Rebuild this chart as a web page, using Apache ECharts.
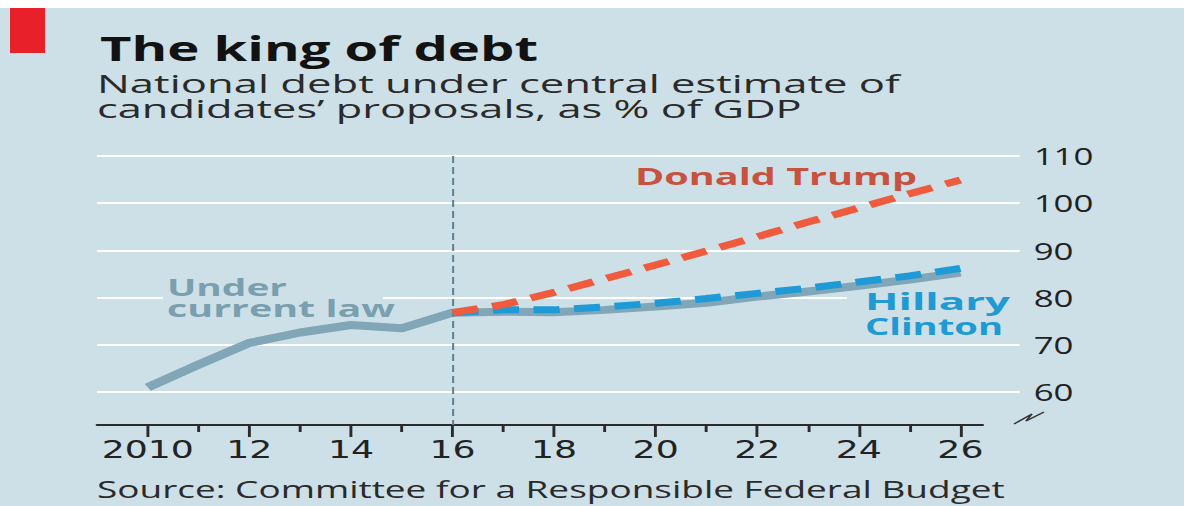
<!DOCTYPE html>
<html>
<head>
<meta charset="utf-8">
<script src="https://cdn.jsdelivr.net/npm/echarts@6/dist/echarts.min.js"></script>
<style>
  html, body { margin: 0; padding: 0; background: #ffffff; overflow: hidden; }
  #stage { width: 1184px; height: 506px; overflow: hidden; position: relative; }
  #chart { height: 506px; transform-origin: 0 0; }
</style>
</head>
<body>
<div id="stage"><div id="chart"></div></div>
<script>
// ---- data: national debt, % of GDP ----
const years = [2010, 2011, 2012, 2013, 2014, 2015, 2016, 2017, 2018, 2019, 2020, 2021, 2022, 2023, 2024, 2025, 2026];
const currentLaw = [61.0, 65.8, 70.4, 72.6, 74.2, 73.5, 76.8, 77.0, 76.9, 77.4, 78.1, 78.9, 80.2, 81.3, 82.5, 83.8, 85.3];
const projYears = [2016, 2017, 2018, 2019, 2020, 2021, 2022, 2023, 2024, 2025, 2026];
const clinton = [76.8, 77.4, 77.4, 78.0, 78.8, 79.8, 80.9, 82.0, 83.3, 84.6, 86.2];
const trump   = [76.8, 78.5, 81.1, 84.0, 86.9, 89.9, 92.9, 96.0, 99.0, 102.0, 104.9];

// ---- axis ticks and labels ----
const yTickValues = [60, 70, 80, 90, 100, 110];
const xMajorTicks = [2010, 2012, 2014, 2016, 2018, 2020, 2022, 2024, 2026];
const xMinorTicks = [2011, 2013, 2015, 2017, 2019, 2021, 2023, 2025];
const xTickLabels = ['2010', '12', '14', '16', '18', '20', '22', '24', '26'];
const projectionStart = 2016;

// ---- text ----
const titleText = 'The king of debt';
const subtitleLines = ['National debt under central estimate of', 'candidates\u2019 proposals, as % of GDP'];
const sourceText = 'Source: Committee for a Responsible Federal Budget';
const trumpLabel = 'Donald Trump';
const clintonLabel = ['Hillary', 'Clinton'];
const lawLabel = ['Under', 'current law'];

// ---- layout (page pixels; the drawing is widened horizontally by STRETCH) ----
const STRETCH = 1.45;
const W = 1184 / STRETCH;
const px = v => v / STRETCH;
const FONT = '"Open Sans", "Noto Sans", sans-serif';
const TICK_FONT = '"DejaVu Sans", "Open Sans", sans-serif';
const BG = '#cddfe7';

const plotLeft = 97, gridRight = 1019, axisRight = 982;
const pxPerYear = 50.75;
const xMin = 2009;
const xMaxGrid = xMin + (gridRight - plotLeft) / pxPerYear;
const xMaxAxis = xMin + (axisRight - plotLeft) / pxPerYear;
const yMin = 50, yMax = 110, yBase = 53;
const plotTop = 156, plotBottom = 439.2, axisY = 425;

const chartEl = document.getElementById('chart');
chartEl.style.width = W + 'px';
chartEl.style.transform = 'scaleX(' + STRETCH + ')';

// horizontal scale that makes a text run span a given page width
const measureCtx = document.createElement('canvas').getContext('2d');
function fitScale(str, font, targetWidth) {
  measureCtx.font = font;
  const w = measureCtx.measureText(str).width;
  return targetWidth / (w * STRETCH);
}
function fittedText(str, font, color, left, midY, targetWidth, z) {
  return {
    type: 'text', x: px(left), y: midY, scaleX: fitScale(str, font, targetWidth), z: z || 10,
    silent: true,
    style: { text: str, font: font, fill: color, align: 'left', verticalAlign: 'middle',
             textAlign: 'left', textVerticalAlign: 'middle' }
  };
}

const titleFont = 'bold 34px ' + FONT;
const subFont = '26px ' + FONT;
const sourceFont = '24px ' + FONT;
const labelFont = 'bold 24px ' + FONT;

const graphics = [
  { type: 'rect', z: 100, silent: true, shape: { x: 0, y: 0, width: W, height: 8 }, style: { fill: '#ffffff' } },
  { type: 'rect', z: 100, silent: true, shape: { x: px(10), y: 8, width: px(35), height: 45 }, style: { fill: '#e8202a' } },
  fittedText(titleText, titleFont, '#121212', 100, 48, 438),
  fittedText(subtitleLines[0], subFont, '#2a2a2a', 97, 83, 803),
  fittedText(subtitleLines[1], subFont, '#2a2a2a', 97, 108, 705),
  fittedText(sourceText, sourceFont, '#2a2a2a', 97, 489, 908),
  // gaps in the gridlines behind the line labels
  { type: 'rect', z: 1, silent: true, shape: { x: px(847), y: 287, width: px(gridRight - 847 + 2), height: 49 }, style: { fill: BG } },
  { type: 'rect', z: 1, silent: true, shape: { x: px(163), y: 276, width: px(220), height: 42 }, style: { fill: BG } },
  fittedText(trumpLabel, labelFont, '#c8523e', 635, 176, 282),
  fittedText(clintonLabel[0], labelFont, '#1f9ad4', 865, 300, 145),
  fittedText(clintonLabel[1], labelFont, '#1f9ad4', 865, 326, 138),
  fittedText(lawLabel[0], labelFont, '#7a9fae', 167, 286, 120),
  fittedText(lawLabel[1], labelFont, '#7a9fae', 167, 308, 228),
  // axis break mark below the lowest value label
  { type: 'polyline', z: 10, silent: true,
    shape: { points: [[px(1014), 424], [px(1032), 414], [px(1026), 421], [px(1044), 412]] },
    style: { stroke: '#333333', lineWidth: 1.3, fill: null } }
];

const chart = echarts.init(chartEl, null, { renderer: 'svg' });

const option = {
  animation: false,
  backgroundColor: BG,
  graphic: { elements: graphics },
  grid: [
    { left: px(plotLeft), right: W - px(gridRight), top: plotTop, bottom: 506 - plotBottom, containLabel: false },
    { left: px(plotLeft), right: W - px(axisRight), top: plotTop, bottom: 506 - axisY, containLabel: false }
  ],
  xAxis: [
    { gridIndex: 0, type: 'value', min: xMin, max: xMaxGrid, show: false },
    {
      gridIndex: 1, type: 'value', min: xMin, max: xMaxAxis, position: 'bottom',
      axisLine: { show: true, lineStyle: { color: '#2b2b2b', width: 2 } },
      axisTick: { show: true, customValues: xMajorTicks, length: 12, lineStyle: { color: '#2b2b2b', width: 2 } },
      axisLabel: {
        customValues: xMajorTicks, margin: 12,
        formatter: v => xTickLabels[xMajorTicks.indexOf(v)] || '',
        fontFamily: TICK_FONT, fontSize: 25, color: '#222222'
      },
      splitLine: { show: false }
    },
    {
      gridIndex: 1, type: 'value', min: xMin, max: xMaxAxis, position: 'bottom',
      axisLine: { show: false },
      axisTick: { show: true, customValues: xMinorTicks, length: 7, lineStyle: { color: '#2b2b2b', width: 2 } },
      axisLabel: { show: false },
      splitLine: { show: false }
    }
  ],
  yAxis: [
    {
      gridIndex: 0, type: 'value', min: yMin, max: yMax, interval: 10, position: 'right',
      axisLine: { show: false }, axisTick: { show: false },
      axisLabel: {
        margin: px(14), fontFamily: FONT, fontSize: 24, color: '#222222',
        formatter: v => (yTickValues.indexOf(v) >= 0 ? String(v) : '')
      },
      splitLine: { show: true, showMinLine: false, lineStyle: { color: '#ffffff', width: 2.2 } }
    },
    { gridIndex: 1, type: 'value', min: 0, max: 1, show: false }
  ],
  series: [
    {
      name: 'Under current law', type: 'line', xAxisIndex: 0, yAxisIndex: 0,
      data: years.map((y, i) => [y, currentLaw[i]]),
      showSymbol: false, silent: true, z: 3,
      lineStyle: { color: '#80a6b7', width: 8, join: 'round' },
      markLine: {
        silent: true, symbol: 'none', label: { show: false }, z: 4,
        lineStyle: { color: '#5f8192', width: 1.4, type: [7, 4] },
        data: [[{ coord: [projectionStart, yMax] }, { coord: [projectionStart, yBase] }]]
      }
    },
    {
      name: 'Hillary Clinton', type: 'line', xAxisIndex: 0, yAxisIndex: 0,
      data: projYears.map((y, i) => [y, clinton[i]]),
      showSymbol: false, silent: true, z: 5,
      lineStyle: { color: '#1e9ad6', width: 7, type: [18, 10], cap: 'butt' }
    },
    {
      name: 'Donald Trump', type: 'line', xAxisIndex: 0, yAxisIndex: 0,
      data: projYears.map((y, i) => [y, trump[i]]),
      showSymbol: false, silent: true, z: 6,
      lineStyle: { color: '#f15b3d', width: 7, type: [18, 10], cap: 'butt' }
    }
  ]
};

chart.setOption(option);
</script>
</body>
</html>
